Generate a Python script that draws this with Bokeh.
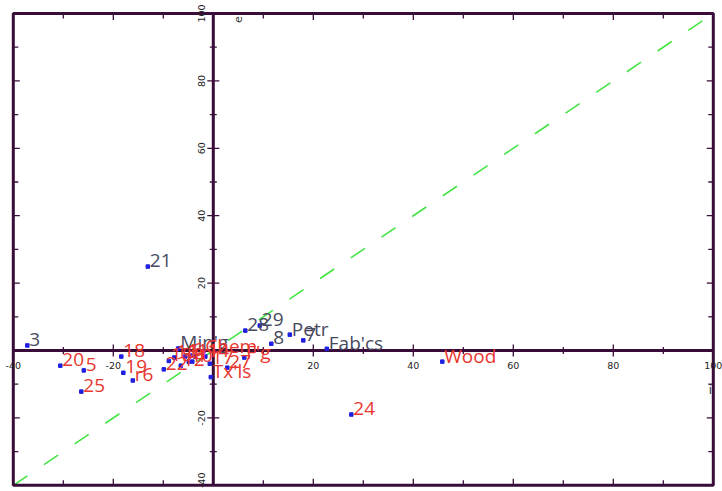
import numpy as np
from bokeh.plotting import figure
from bokeh.models import Range1d, ColumnDataSource
from bokeh.core.properties import value
from bokeh.embed import file_html
from bokeh.resources import INLINE

# ---------------- data ----------------
labels = ["3", "20", "5", "25", "18", "19", "r6", "22", "15", "12", "10", "4", "17",
          "Tx'ls", "27", "Min'g", "Chem", "F'g", "1", "6", "11", "14", "16",
          "28", "29", "8", "Petr", "7", "Fab'cs", "Wood", "24", "21"]
xs = [-37.2, -30.6, -25.9, -26.4, -18.4, -18.0, -16.1, -9.9, -8.9, -6.5, -4.9, -4.2, -0.7,
      -0.5, 2.8, -7.0, -2.0, 6.2, -5.6, -4.6, -3.6, -1.6, -7.8,
      6.4, 9.3, 11.6, 15.3, 18.0, 22.7, 45.8, 27.6, -13.1]
ys = [1.5, -4.5, -5.9, -12.2, -1.8, -6.6, -8.9, -5.6, -3.1, -4.5, -3.3, -3.3, -3.9,
      -7.9, -5.1, 0.6, -0.3, -2.1, -1.8, -1.5, -1.8, -1.8, -2.1,
      5.9, 7.4, 2.0, 4.7, 3.0, 0.5, -3.3, -19.0, 24.9]

x_min, x_max = -40, 100
y_min, y_max = -40, 100
tick_vals = list(range(-30, 100, 10))
tick_label_vals = [-40, -20, 20, 40, 60, 80, 100]
tick_label_txt = ["-40", "-20", "20", "40", "60", "80", "100"]
x_title = "i"
y_title = "e"

# ---------------- styles ----------------
AX = "#3a0c3a"
RED = "#e8362f"
GRAY = "#474a5e"
BLUE = "#1f1fe0"

# canvas mapping: frame is full canvas, border drawn at data limits
W, H = 722, 491
px_x0, sx = 212.8, 5.0      # pixel of x=0, px per unit
px_y0, sy = 350.0, 3.37     # pixel of y=0, px per unit
xr = Range1d(-px_x0 / sx, (W - px_x0) / sx)
yr = Range1d(-(H - px_y0) / sy, px_y0 / sy)

p = figure(width=W, height=H, x_range=xr, y_range=yr, output_backend="svg",
           toolbar_location=None, x_axis_location=None, y_axis_location=None,
           min_border=0, min_border_left=0, min_border_right=0,
           min_border_top=0, min_border_bottom=0)
p.grid.visible = False
p.outline_line_color = None
p.background_fill_color = "white"
p.border_fill_color = "white"

# diagonal y = x
p.line([x_min, x_max], [y_min, y_max], line_color="#44e444", line_width=1.6,
       line_dash="17 20")

# border
p.quad(left=[x_min], right=[x_max], bottom=[y_min], top=[y_max],
       fill_color=None, line_color=AX, line_width=3)

# central axes
p.segment(x0=[0, x_min], y0=[y_min, 0], x1=[0, x_max], y1=[y_max, 0],
          line_color=AX, line_width=3)

tv = np.array(tick_vals, dtype=float)
tv = tv[tv != 0]
major = (tv % 20 == 0)
tsize = np.where(major, 12, 7)

# ticks on central axes
p.scatter(x=tv, y=np.zeros_like(tv), marker="dash", size=tsize, angle=np.pi / 2,
          line_color=AX, line_width=1.3)
p.scatter(x=np.zeros_like(tv), y=tv, marker="dash", size=tsize, angle=0,
          line_color=AX, line_width=1.3)

# inward ticks on the border
tv_all = np.array(tick_vals, dtype=float)
maj_all = (tv_all % 20 == 0)
tl_all = np.where(maj_all, 6.5, 5)
n = len(tv_all)
p.ray(x=tv_all, y=np.full(n, y_max), length=tl_all, angle=-np.pi / 2,
      length_units="screen", line_color=AX, line_width=1.3)
p.ray(x=tv_all, y=np.full(n, y_min), length=tl_all, angle=np.pi / 2,
      length_units="screen", line_color=AX, line_width=1.3)
p.ray(x=np.full(n, x_min), y=tv_all, length=tl_all, angle=0,
      length_units="screen", line_color=AX, line_width=1.3)
p.ray(x=np.full(n, x_max), y=tv_all, length=tl_all, angle=np.pi,
      length_units="screen", line_color=AX, line_width=1.3)

# tick labels
p.text(x=tick_label_vals, y=[0] * len(tick_label_vals), text=tick_label_txt,
       x_offset=0, y_offset=15, text_align="center", text_baseline="middle",
       text_font=value("DejaVu Sans"), text_font_size="9.5px", text_color="#222222")
# keep the lowest rotated label inside the canvas
ylab_yoff = [-5 if v == y_min else 0 for v in tick_label_vals]
p.text(x=[0] * len(tick_label_vals), y=tick_label_vals, text=tick_label_txt,
       x_offset=-12, y_offset=ylab_yoff, angle=np.pi / 2, text_align="center",
       text_baseline="middle", text_font=value("DejaVu Sans"),
       text_font_size="9.5px", text_color="#222222")

# axis titles
p.text(x=[0], y=[y_max], text=[y_title], x_offset=25, y_offset=6, angle=np.pi / 2,
       text_align="center", text_baseline="middle", text_font=value("DejaVu Sans"),
       text_font_size="11px", text_color="#333333")
p.text(x=[x_max], y=[0], text=[x_title], x_offset=-3, y_offset=39,
       text_align="center", text_baseline="middle", text_font=value("DejaVu Sans"),
       text_font_size="12px", text_color="#333333")

# points and labels
colors = [GRAY if yy > 0 else RED for yy in ys]
src = ColumnDataSource(dict(x=xs, y=ys, t=labels, c=colors))
p.scatter(x="x", y="y", source=src, marker="square", size=3.5,
          fill_color=BLUE, line_color=BLUE)
p.text(x="x", y="y", text="t", source=src, x_offset=2, y_offset=-6,
       text_align="left", text_baseline="alphabetic", text_color="c",
       text_font=value("Open Sans"), text_font_size="19px")

open("out.html", "w").write(file_html(p, INLINE))
